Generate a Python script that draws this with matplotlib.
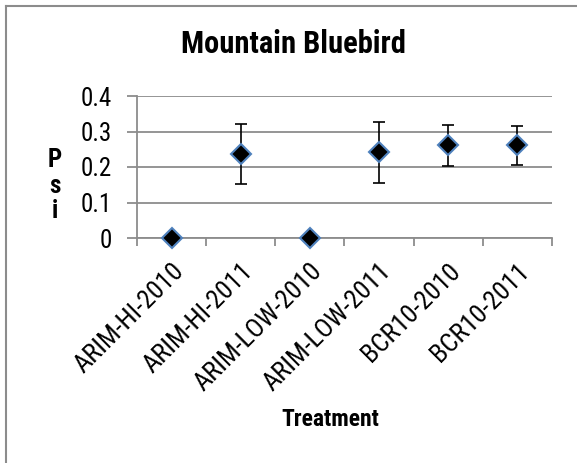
import numpy as np
import matplotlib.pyplot as plt

# data
treatments = ["ARIM-HI-2010", "ARIM-HI-2011", "ARIM-LOW-2010",
              "ARIM-LOW-2011", "BCR10-2010", "BCR10-2011"]
psi = [0.0, 0.238, 0.0, 0.241, 0.261, 0.261]
psi_low = [0.0, 0.153, 0.0, 0.155, 0.202, 0.205]
psi_high = [0.0, 0.322, 0.0, 0.326, 0.317, 0.316]

plt.rcParams['font.family'] = ['Roboto Condensed', 'DejaVu Sans']

fig = plt.figure(figsize=(5.77, 4.63), dpi=100)
W, H = 577, 463
ax = fig.add_axes([137 / W, 1 - 238 / H, (552 - 137) / W, (238 - 96) / H])

x = np.arange(len(treatments))
y = np.array(psi)
yerr = np.array([y - np.array(psi_low), np.array(psi_high) - y])
has_err = yerr.sum(axis=0) > 0

ax.errorbar(x[has_err], y[has_err], yerr=yerr[:, has_err], fmt='none',
            ecolor='black', elinewidth=1.2, capsize=4, capthick=1.2, zorder=3)
ax.plot(x, y, linestyle='none', marker='D', markersize=10,
        markerfacecolor='black', markeredgecolor='#4f81bd',
        markeredgewidth=1.5, zorder=4, clip_on=False)

ax.set_xlim(-0.5, len(treatments) - 0.5)
ax.set_ylim(0, 0.4)
ax.set_yticks([0, 0.1, 0.2, 0.3, 0.4])
ax.set_yticklabels(["0", "0.1", "0.2", "0.3", "0.4"], fontsize=18)
ax.yaxis.grid(True, color='#8c8c8c', linewidth=1.3)
ax.set_axisbelow(True)

ax.set_xticks(np.arange(len(treatments) + 1) - 0.5)
ax.set_xticklabels([])
ax.set_xticks(x, minor=True)
ax.set_xticklabels(treatments, minor=True, rotation=45, ha='right',
                   va='top', rotation_mode='anchor', fontsize=19)
ax.tick_params(axis='x', which='minor', length=0, pad=15)
ax.tick_params(axis='x', which='major', length=6, color='#8c8c8c', width=1.3)
ax.tick_params(axis='y', length=7, color='#8c8c8c', width=1.3, pad=11)

for side in ['top', 'right']:
    ax.spines[side].set_visible(False)
for side in ['left', 'bottom']:
    ax.spines[side].set_color('#8c8c8c')
    ax.spines[side].set_linewidth(1.3)

fig.text(293 / W, 1 - 44 / H, "Mountain Bluebird", ha='center', va='center',
         fontsize=22, fontweight='bold')
for ch, yy in zip("Psi", [160, 186, 211]):
    fig.text(55 / W, 1 - yy / H, ch, ha='center', va='center',
             fontsize=18, fontweight='bold')
fig.text(330 / W, 1 - 420 / H, "Treatment", ha='center', va='center',
         fontsize=17, fontweight='bold')

# chart border (top and left edges visible)
fig.add_artist(plt.Line2D([5.5 / W, 5.5 / W], [0, 1 - 6 / H],
                          transform=fig.transFigure, color='#8c8c8c', lw=1.5))
fig.add_artist(plt.Line2D([5.5 / W, 1], [1 - 6 / H, 1 - 6 / H],
                          transform=fig.transFigure, color='#8c8c8c', lw=1.5))

fig.savefig("out.png", dpi=100)
